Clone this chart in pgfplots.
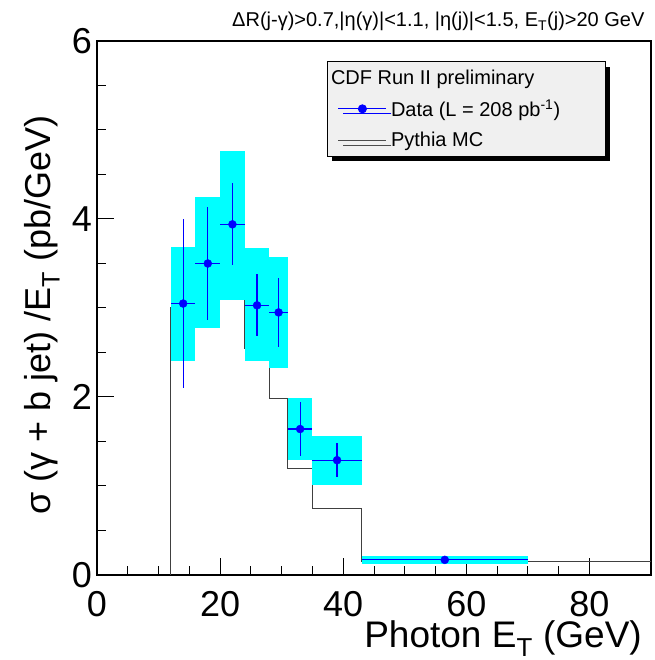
\documentclass[border=0pt]{standalone}
\usepackage{pgfplots}
\pgfplotsset{compat=1.18}
\usepackage{pgfplotstable}
\usepackage{fontspec}
\setmainfont{Liberation Sans}
\usetikzlibrary{shadows}

\definecolor{rootcyan}{RGB}{0,255,255}
\definecolor{rootblue}{RGB}{0,0,255}
\definecolor{legfill}{RGB}{240,240,240}

% data points: centre, bin half width, stat error
\pgfplotstableread{
x     y     ex    ey
14    3.05  2.0   0.95
18    3.50  2.0   0.63
22    3.94  2.0   0.46
26    3.03  2.0   0.35
29.5  2.95  1.5   0.39
33    1.64  2.0   0.30
39    1.29  4.0   0.19
56.5  0.17  13.5  0.03
}\data

\begin{document}
\begin{tikzpicture}
\path[use as bounding box] (0,0) rectangle (654pt,660pt);
\begin{axis}[
  name=ax,
  at={(97pt,85pt)}, anchor=south west,
  scale only axis, width=554pt, height=534pt,
  xmin=0, xmax=90, ymin=0, ymax=6,
  xtick={0,20,...,80}, minor x tick num=3,
  ytick={0,2,4,6}, minor y tick num=3,
  xtick pos=left, ytick pos=left, tick align=inside,
  major tick length=17pt, minor tick length=9pt,
  tick style={black, line width=1pt},
  axis line style={line width=1.2pt},
  /pgf/number format/assume math mode=true,
  ticklabel style={font=\fontsize{36}{40}\selectfont, inner sep=0pt},
  xticklabel style={yshift=-16pt},
  yticklabel style={xshift=-5pt},
  xlabel={Photon E\textsubscript{T} (GeV)},
  xlabel style={font=\fontsize{37}{40}\selectfont, inner sep=0pt, at={(axis description cs:1,0)}, anchor=base east, yshift=-72pt, xshift=-9pt},
  ylabel={σ (γ + b jet) /E\textsubscript{T} (pb/GeV)},
  ylabel style={font=\fontsize{36}{40}\selectfont, at={(axis description cs:-0.099,0.487)}, anchor=center},
  legend style={at={(axis description cs:0.415,0.9625)}, anchor=north west,
    fill=legfill, draw=black, line width=1pt,
    drop shadow={shadow xshift=5pt, shadow yshift=-5pt, fill=black, opacity=1},
    font=\fontsize{20}{22}\selectfont, row sep=10pt, inner xsep=6pt, inner ysep=6pt},
  legend cell align=left,
  legend image code/.code={\draw[mark repeat=2,mark phase=2,#1] plot coordinates {(5pt,0pt) (29pt,0pt) (53pt,0pt)}; \path (55pt,0pt);},
]
% Pythia MC histogram
\addplot[const plot, black!75, line width=1pt, forget plot] coordinates {
(12,0) (12,3.00) (16,3.10) (20,3.09) (24,2.54) (28,1.985) (31,1.20) (35,0.75) (43,0.157) (90,0.157)
};
% systematic bands
\addplot[fill=rootcyan, draw=none, forget plot] coordinates {(12,2.40) (16,2.40) (16,3.69) (12,3.69)};
\addplot[fill=rootcyan, draw=none, forget plot] coordinates {(16,2.77) (20,2.77) (20,4.25) (16,4.25)};
\addplot[fill=rootcyan, draw=none, forget plot] coordinates {(20,3.09) (24,3.09) (24,4.76) (20,4.76)};
\addplot[fill=rootcyan, draw=none, forget plot] coordinates {(24,2.40) (28,2.40) (28,3.67) (24,3.67)};
\addplot[fill=rootcyan, draw=none, forget plot] coordinates {(28,2.33) (31,2.33) (31,3.57) (28,3.57)};
\addplot[fill=rootcyan, draw=none, forget plot] coordinates {(31,1.29) (35,1.29) (35,1.99) (31,1.99)};
\addplot[fill=rootcyan, draw=none, forget plot] coordinates {(35,1.01) (43,1.01) (43,1.56) (35,1.56)};
\addplot[fill=rootcyan, draw=none, forget plot] coordinates {(43,0.12) (70,0.12) (70,0.21) (43,0.21)};
% data
\addplot[rootblue, only marks, mark=*, mark size=4pt, forget plot,
  error bars/.cd, x dir=both, x explicit, y dir=both, y explicit,
  error bar style={line width=1.2pt, rootblue}, error mark=none]
  table[x=x, y=y, x error=ex, y error=ey] {\data};

\addlegendimage{empty legend}
\addlegendentry{\hspace*{-60pt}CDF Run II preliminary}
\addlegendimage{rootblue, line width=1pt, mark=*, mark size=4pt}
\addlegendentry{Data (L = 208 pb\textsuperscript{-1})\hspace*{37pt}}
\addlegendimage{black!70, line width=1.2pt}
\addlegendentry{Pythia MC}
\end{axis}
\node[anchor=base west, inner sep=0pt]
  at ([xshift=135pt, yshift=14pt]ax.north west)
  {\fontsize{20}{22}\selectfont ΔR(j-γ)>0.7,|η(γ)|<1.1, |η(j)|<1.5, E\textsubscript{T}(j)>20 GeV};
\end{tikzpicture}
\end{document}
